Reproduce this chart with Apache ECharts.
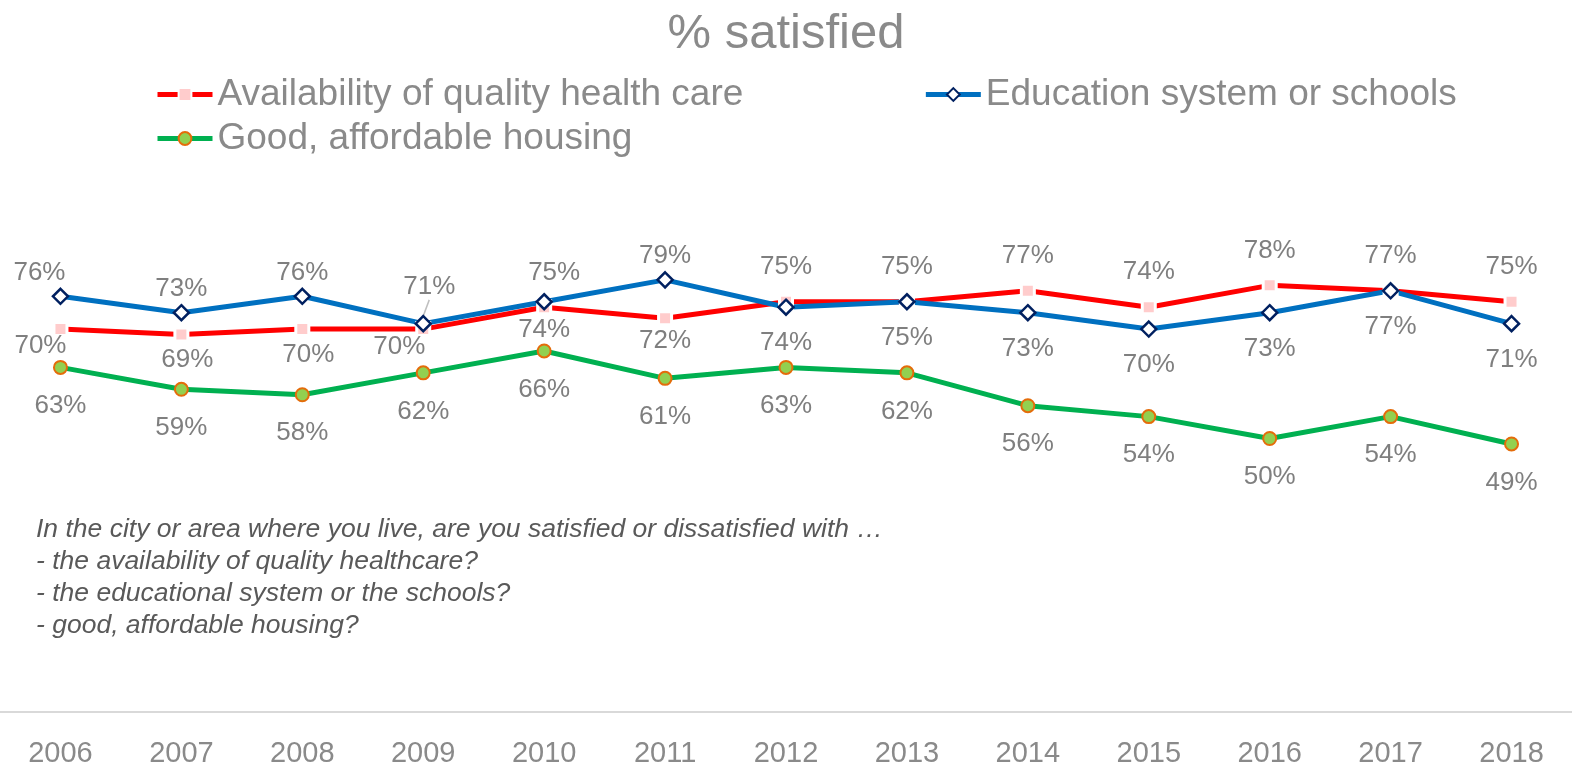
<!DOCTYPE html>
<html>
<head>
<meta charset="utf-8">
<title>% satisfied</title>
<script src="https://cdn.jsdelivr.net/npm/echarts@6/dist/echarts.min.js"></script>
<style>
  html, body { margin: 0; padding: 0; background: #ffffff; }
  #chart { width: 1572px; height: 768px; }
</style>
</head>
<body>
<div id="chart"></div>
<script>
// Survey years
const years = ['2006', '2007', '2008', '2009', '2010', '2011', '2012',
               '2013', '2014', '2015', '2016', '2017', '2018'];

// Share satisfied (%)
const healthCare = [70, 69, 70, 70, 74, 72, 75, 75, 77, 74, 78, 77, 75];
const education  = [76, 73, 76, 71, 75, 79, 74, 75, 73, 70, 73, 77, 71];
const housing    = [63, 59, 58, 62, 66, 61, 63, 62, 56, 54, 50, 54, 49];

const seriesNames = [
  'Availability of quality health care',
  'Education system or schools',
  'Good, affordable housing'
];

const questionLines = [
  'In the city or area where you live, are you satisfied or dissatisfied with \u2026',
  '- the availability of quality healthcare?',
  '- the educational system or the schools?',
  '- good, affordable housing?'
];

const FONT = '"Liberation Sans", Arial, Helvetica, sans-serif';
const GREY = '#8a8a8a';
const LABEL_GREY = '#7f7f7f';

// The first six years sit tight to their markers; later years stand off a little more.
const TIGHT_COUNT = 6;

// Hand adjustments of individual labels: "series-index" -> [dx, dy]
const labelShifts = {
  '0-0': [-20, -6],
  '0-1': [6, 2],
  '0-2': [6, 3],
  '0-3': [-24, -5],
  '1-0': [-21, 0],
  '1-3': [6, -13],
  '1-4': [10, -5]
};

function shiftLabel(params) {
  const s = labelShifts[params.seriesIndex + '-' + params.dataIndex];
  return s ? { dx: s[0], dy: s[1] } : {};
}

// healthcare vs education: the higher of the two is labelled above, the lower below
const healthData = healthCare.map((v, i) => ({
  value: v,
  label: {
    position: v >= education[i] ? 'top' : 'bottom',
    distance: i < TIGHT_COUNT ? 2 : 14
  }
}));

const educationData = education.map((v, i) => {
  const item = {
    value: v,
    label: {
      position: v > healthCare[i] ? 'top' : 'bottom',
      distance: i < TIGHT_COUNT ? 2 : 14
    }
  };
  if (i === 3) {
    item.labelLine = { show: true, lineStyle: { color: '#bfbfbf', width: 1.5 } };
  }
  return item;
});

const housingData = housing.map(v => ({ value: v }));

const labelStyle = {
  show: true,
  formatter: '{c}%',
  fontFamily: FONT,
  fontSize: 26,
  color: LABEL_GREY
};

const chart = echarts.init(document.getElementById('chart'), null, { renderer: 'canvas' });

chart.setOption({
  animation: false,
  backgroundColor: '#ffffff',
  textStyle: { fontFamily: FONT },
  title: {
    text: '% satisfied',
    left: 'center',
    top: 10,
    padding: 0,
    textStyle: { fontFamily: FONT, fontSize: 49, fontWeight: 'normal', color: GREY }
  },
  legend: [
    {
      data: [seriesNames[0], seriesNames[1]],
      left: 155,
      top: 76,
      padding: 0,
      itemWidth: 55,
      itemHeight: 16,
      itemGap: 180,
      lineStyle: { width: 5 },
      textStyle: { fontFamily: FONT, fontSize: 37, color: GREY }
    },
    {
      data: [seriesNames[2]],
      left: 155,
      top: 120,
      padding: 0,
      itemWidth: 55,
      itemHeight: 16,
      lineStyle: { width: 5 },
      textStyle: { fontFamily: FONT, fontSize: 37, color: GREY }
    }
  ],
  grid: { left: -2, right: -20, top: 165, bottom: 53 },
  xAxis: {
    type: 'category',
    data: years,
    boundaryGap: true,
    axisLine: { show: true, lineStyle: { color: '#d9d9d9', width: 2 } },
    axisTick: { show: false },
    axisLabel: { interval: 0, margin: 27, fontFamily: FONT, fontSize: 29, color: GREY },
    splitLine: { show: false }
  },
  yAxis: {
    type: 'value',
    min: 0,
    max: 100,
    show: false,
    splitLine: { show: false }
  },
  graphic: [
    {
      type: 'text',
      left: 36,
      top: 514,
      silent: true,
      style: {
        text: questionLines.join('\n'),
        font: 'italic 26.5px ' + FONT,
        lineHeight: 32,
        fill: '#595959'
      }
    }
  ],
  series: [
    {
      name: seriesNames[0],
      type: 'line',
      data: healthData,
      symbol: 'rect',
      symbolSize: 13,
      lineStyle: { color: '#ff0000', width: 5 },
      itemStyle: { color: '#ffcccc', borderColor: '#ffffff', borderWidth: 3 },
      label: labelStyle,
      labelLayout: shiftLabel,
      emphasis: { disabled: true }
    },
    {
      name: seriesNames[1],
      type: 'line',
      data: educationData,
      symbol: 'diamond',
      symbolSize: 15,
      lineStyle: { color: '#0070c0', width: 5 },
      itemStyle: { color: '#ffffff', borderColor: '#002060', borderWidth: 2.5 },
      label: labelStyle,
      labelLayout: shiftLabel,
      emphasis: { disabled: true }
    },
    {
      name: seriesNames[2],
      type: 'line',
      data: housingData,
      symbol: 'circle',
      symbolSize: 13,
      lineStyle: { color: '#00b050', width: 5 },
      itemStyle: { color: '#92d050', borderColor: '#e46c0a', borderWidth: 2 },
      label: Object.assign({}, labelStyle, { position: 'bottom', distance: 18 }),
      emphasis: { disabled: true }
    }
  ]
});
</script>
</body>
</html>
